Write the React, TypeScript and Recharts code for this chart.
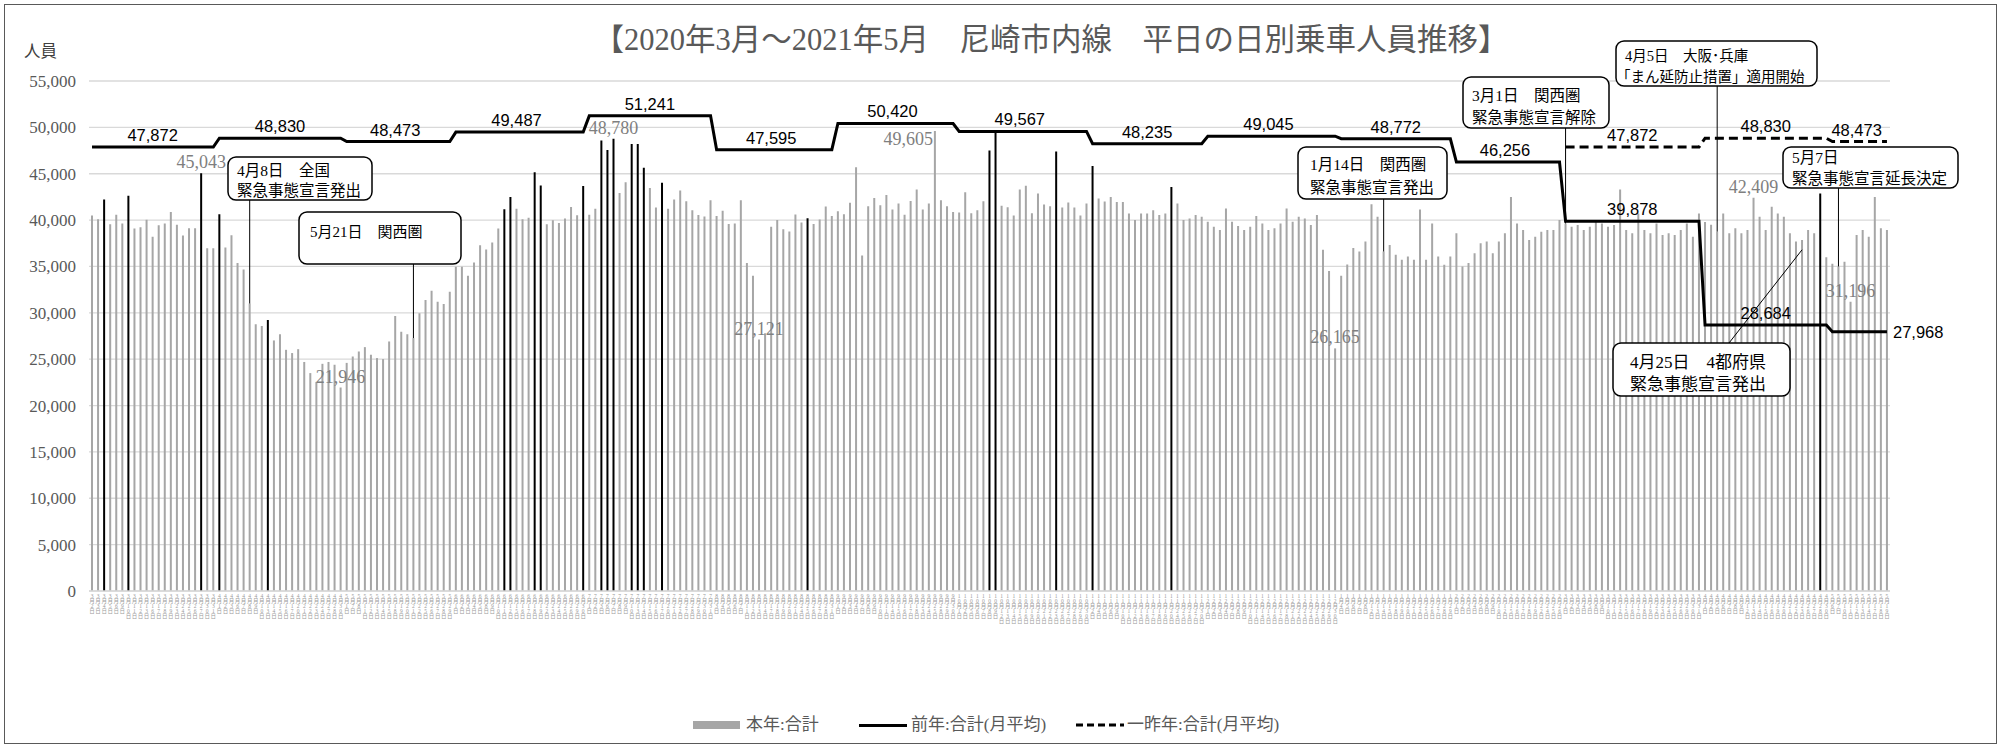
import React from 'react';
import { ComposedChart, Bar, Line, XAxis, YAxis, CartesianGrid, Cell, LabelList, ReferenceDot } from 'recharts';

const SERIF = '"Liberation Serif", "Noto Sans CJK JP", serif';
const SANS = '"Liberation Sans", Arial, sans-serif';

// months shown on the axis
const MONTH_YEAR = [2020, 2020, 2020, 2020, 2020, 2020, 2020, 2020, 2020, 2020, 2021, 2021, 2021, 2021, 2021];
const MONTH_NUM = [3, 4, 5, 6, 7, 8, 9, 10, 11, 12, 1, 2, 3, 4, 5];

// weekdays (holidays excluded) of each month
const BUSINESS_DAYS = [
  [2, 3, 4, 5, 6, 9, 10, 11, 12, 13, 16, 17, 18, 19, 23, 24, 25, 26, 27, 30, 31],
  [1, 2, 3, 6, 7, 8, 9, 10, 13, 14, 15, 16, 17, 20, 21, 22, 23, 24, 27, 28, 30],
  [1, 7, 8, 11, 12, 13, 14, 15, 18, 19, 20, 21, 22, 25, 26, 27, 28, 29],
  [1, 2, 3, 4, 5, 8, 9, 10, 11, 12, 15, 16, 17, 18, 19, 22, 23, 24, 25, 26, 29, 30],
  [1, 2, 3, 6, 7, 8, 9, 10, 13, 14, 15, 16, 17, 20, 21, 22, 27, 28, 29, 30, 31],
  [3, 4, 5, 6, 7, 11, 12, 13, 14, 17, 18, 19, 20, 21, 24, 25, 26, 27, 28, 31],
  [1, 2, 3, 4, 7, 8, 9, 10, 11, 14, 15, 16, 17, 18, 23, 24, 25, 28, 29, 30],
  [1, 2, 5, 6, 7, 8, 9, 12, 13, 14, 15, 16, 19, 20, 21, 22, 23, 26, 27, 28, 29, 30],
  [2, 4, 5, 6, 9, 10, 11, 12, 13, 16, 17, 18, 19, 20, 24, 25, 26, 27, 30],
  [1, 2, 3, 4, 7, 8, 9, 10, 11, 14, 15, 16, 17, 18, 21, 22, 23, 24, 25, 28, 29, 30],
  [4, 5, 6, 7, 8, 12, 13, 14, 15, 18, 19, 20, 21, 22, 25, 26, 27, 28, 29],
  [1, 2, 3, 4, 5, 8, 9, 10, 12, 15, 16, 17, 18, 19, 22, 24, 25, 26],
  [1, 2, 3, 4, 5, 8, 9, 10, 11, 12, 15, 16, 17, 18, 19, 22, 23, 24, 25, 26, 29, 30, 31],
  [1, 2, 5, 6, 7, 8, 9, 12, 13, 14, 15, 16, 19, 20, 21, 22, 23, 26, 27, 28, 30],
  [6, 7, 10, 11, 12, 13, 14, 17, 18, 19],
];

// 本年:合計 (daily riders), one list per month
const RIDERS = [
  [40500, 40080, 42230, 39550, 40580, 39620, 42620, 39080, 39220, 40050, 38190, 39440, 39620, 40870, 39510, 38330, 39110, 39110, 45043, 36970, 36970],
  [40620, 37040, 38360, 35360, 34680, 31000, 28770, 28590, 29230, 27020, 27700, 26010, 25660, 26080, 24700, 23500, 22550, 24500, 24700, 24400, 21946],
  [24600, 25290, 25830, 26300, 25480, 25120, 25010, 26910, 29670, 27950, 27700, 27270, 29950, 31380, 32390, 31200, 30950, 32280],
  [34960, 34960, 34000, 35430, 37290, 36830, 37580, 39080, 41160, 42480, 41230, 40080, 40260, 45170, 43740, 39550, 39980, 39690, 40160, 41410, 40510, 43670],
  [40580, 41230, 48570, 47570, 48780, 42930, 44070, 48210, 48210, 45640, 43460, 41360, 44040, 41220, 42210, 43180, 42040, 41070, 40540, 40390, 42140],
  [40430, 41000, 39570, 39640, 42140, 35360, 34000, 27121, 27800, 39290, 40000, 39000, 38780, 40600, 39750, 40210, 39570, 40070, 41460, 40430],
  [40960, 40640, 41860, 45710, 36180, 41500, 42390, 41610, 42710, 41140, 41790, 40570, 42070, 43290, 41140, 41790, 49605, 42140, 41500, 40860],
  [40820, 43000, 40750, 41070, 42040, 47500, 49450, 41540, 41390, 40500, 43290, 43710, 40750, 42860, 41680, 41500, 47390, 41360, 41890, 41360, 40500, 41790],
  [45820, 42320, 42000, 42500, 41960, 41960, 40710, 40000, 40710, 40710, 41070, 40540, 40710, 43570, 41790, 40000, 40180, 40540, 40360],
  [39820, 39290, 38930, 41250, 39820, 39360, 38930, 39290, 40430, 39640, 38930, 39110, 39640, 41250, 39820, 40360, 40180, 39460, 40540, 36790, 34500, 26165],
  [34000, 35200, 37000, 36610, 37680, 41710, 40360, 36610, 37320, 36250, 35710, 36070, 35710, 41140, 35710, 39640, 36070, 35180, 36070],
  [38570, 35000, 35360, 36430, 37500, 37680, 36430, 37680, 38570, 42500, 39640, 38930, 37860, 38210, 38750, 38930, 38930, 40000],
  [39640, 39290, 39460, 38930, 39290, 39820, 39640, 39290, 39460, 43290, 38930, 38570, 40710, 38930, 38570, 39640, 38390, 38570, 38390, 38930, 39640, 38210, 40710],
  [39800, 39500, 38750, 40710, 38570, 39110, 38570, 38930, 42409, 40360, 38930, 41430, 40710, 40360, 38570, 37680, 37860, 38930, 38570, 42860, 36000],
  [35300, 35000, 35500, 31196, 38390, 38930, 38210, 42500, 39110, 38930],
];

// 前年:合計(月平均)
const PREV_AVG = [47872, 48830, 48473, 49487, 51241, 47595, 50420, 49567, 48235, 49045, 48772, 46256, 39878, 28684, 27968];
// 一昨年:合計(月平均)
const TWO_AGO_AVG = [null, null, null, null, null, null, null, null, null, null, null, null, 47872, 48830, 48473];

// days drawn in black
const BLACK_DAYS = [
  '2020/3/4', '2020/3/10', '2020/3/27', '2020/4/1', '2020/4/13', '2020/6/11', '2020/6/12', '2020/6/18', '2020/6/19',
  '2020/6/30', '2020/7/3', '2020/7/6', '2020/7/7', '2020/7/10', '2020/7/13', '2020/7/14', '2020/7/17', '2020/8/25',
  '2020/10/8', '2020/10/9', '2020/10/23', '2020/11/2', '2020/11/20', '2021/4/28',
];
// days whose value is written on the chart
const LABELED_DAYS = ['2020/3/27', '2020/4/30', '2020/7/7', '2020/8/13', '2020/12/30', '2021/4/13', '2021/5/11'];
const LEFT_LABELED_DAYS = ['2020/9/25'];

const Y_TICKS = [0, 5000, 10000, 15000, 20000, 25000, 30000, 35000, 40000, 45000, 50000, 55000];

// callouts
const NOTE_DAYS = ['2020/4/8', '2020/5/21', '2021/1/14', '2021/3/1', '2021/4/5', '2021/5/7', '2021/4/23'];
const NOTE_TEXT = [
  ['4月8日　全国', '緊急事態宣言発出'],
  ['5月21日　関西圏', ''],
  ['1月14日　関西圏', '緊急事態宣言発出'],
  ['3月1日　関西圏', '緊急事態宣言解除'],
  ['4月5日　大阪･兵庫', '「まん延防止措置」適用開始'],
  ['5月7日', '緊急事態宣言延長決定'],
  ['4月25日　4都府県', '緊急事態宣言発出'],
];
const NOTE_TIP = [null, null, null, null, null, null, 36800];

const NOTE_LAYOUT = [
  { x: 228, y: 157, w: 144, h: 43, fs: 15.5, t1: 9, t2: 9, b1: 19, b2: 39 },
  { x: 299, y: 212, w: 162, h: 52, fs: 15, t1: 11, t2: 11, b1: 25, b2: 46 },
  { x: 1298, y: 147, w: 149, h: 52, fs: 15.5, t1: 12, t2: 12, b1: 23, b2: 46 },
  { x: 1463, y: 77, w: 146, h: 51, fs: 15.5, t1: 9, t2: 9, b1: 24, b2: 46 },
  { x: 1616, y: 41, w: 201, h: 45, fs: 14.5, t1: 9, t2: 0, b1: 20, b2: 41 },
  { x: 1783, y: 147, w: 175, h: 41, fs: 15.5, t1: 9, t2: 9, b1: 16, b2: 37 },
  { x: 1613, y: 343, w: 177, h: 53, fs: 17, t1: 17, t2: 17, b1: 25, b2: 47, lead: { x: 1729, y: 343 } },
];

const fmt = (v: number) => String(v).replace(/\B(?=(\d{3})+(?!\d))/g, ',');

function buildRows() {
  const out: any[] = [];
  BUSINESS_DAYS.forEach((days, m) => {
    const mid = Math.floor((days.length - 1) / 2);
    const lastMonth = m === BUSINESS_DAYS.length - 1;
    days.forEach((d, i) => {
      const key = `${MONTH_YEAR[m]}/${MONTH_NUM[m]}/${d}`;
      const v = RIDERS[m][i];
      const two = TWO_AGO_AVG[m];
      out.push({
        key,
        riders: v,
        prev: PREV_AVG[m],
        twoAgo: two,
        black: BLACK_DAYS.includes(key),
        labelTop: LABELED_DAYS.includes(key) ? fmt(v) : null,
        labelLeft: LEFT_LABELED_DAYS.includes(key) ? fmt(v) : null,
        prevTop: !lastMonth && i === mid ? fmt(PREV_AVG[m]) : null,
        prevRight: lastMonth && i === days.length - 1 ? fmt(PREV_AVG[m]) : null,
        twoTop: two != null && i === mid ? fmt(two) : null,
      });
    });
  });
  return out;
}

const rows = buildRows();

const vbOf = (p: any) => {
  const v = p.viewBox || {};
  return { x: v.x ?? p.x, y: v.y ?? p.y, w: v.width ?? p.width ?? 0 };
};

const BarTopLabel = (p: any) => {
  if (p.value == null) return null;
  const b = vbOf(p);
  return (
    <text x={b.x + b.w / 2} y={b.y - 5} textAnchor="middle" fontSize={18} fill="#7f7f7f" fontFamily={SERIF}>
      {p.value}
    </text>
  );
};

const BarLeftLabel = (p: any) => {
  if (p.value == null) return null;
  const b = vbOf(p);
  return (
    <text x={b.x - 1} y={b.y + 14} textAnchor="end" fontSize={18} fill="#7f7f7f" fontFamily={SERIF}>
      {p.value}
    </text>
  );
};

const LineTopLabel = (p: any) => {
  if (p.value == null) return null;
  const b = vbOf(p);
  return (
    <text x={b.x} y={b.y - 6} textAnchor="middle" fontSize={16.5} fill="#000" fontFamily={SANS}>
      {p.value}
    </text>
  );
};

const LineRightLabel = (p: any) => {
  if (p.value == null) return null;
  const b = vbOf(p);
  return (
    <text x={b.x + 6} y={b.y + 6} textAnchor="start" fontSize={16.5} fill="#000" fontFamily={SANS}>
      {p.value}
    </text>
  );
};

const DateTick = (props: any) => {
  const { x, y, payload } = props;
  const parts = String(payload.value).split('/');
  const chars = [...parts[1], '月', ...parts[2], '日'];
  return (
    <g>
      {chars.map((c, i) => (
        <text key={i} x={x} y={y + 6.5 + i * 5.1} textAnchor="middle" fontSize={5.5} fill="#9a9a9a" fontFamily={SERIF}>
          {c}
        </text>
      ))}
    </g>
  );
};

const ValueTick = (props: any) => {
  const { x, y, payload } = props;
  return (
    <text x={x} y={y + 6} textAnchor="end" fontSize={17} fill="#595959" fontFamily={SERIF}>
      {fmt(payload.value)}
    </text>
  );
};

const noteShape = (i: number) => (props: any) => {
  const { cx, cy } = props;
  const L = NOTE_LAYOUT[i];
  const [l1, l2] = NOTE_TEXT[i];
  const from = L.lead ? L.lead : { x: cx, y: L.y + L.h };
  return (
    <g>
      <line x1={from.x} y1={from.y} x2={cx} y2={cy} stroke="#000" strokeWidth={1} />
      <rect x={L.x} y={L.y} width={L.w} height={L.h} rx={8} ry={8} fill="#fff" stroke="#000" strokeWidth={1.5} />
      <text x={L.x + L.t1} y={L.y + L.b1} fontSize={L.fs} fill="#000" fontFamily={SERIF}>{l1}</text>
      {l2 ? <text x={L.x + L.t2} y={L.y + L.b2} fontSize={L.fs} fill="#000" fontFamily={SERIF}>{l2}</text> : null}
    </g>
  );
};

const noteTip = (i: number) => {
  const t = NOTE_TIP[i];
  if (t != null) return t;
  const r = rows.find((row) => row.key === NOTE_DAYS[i]);
  return r ? r.riders : 0;
};

const legendText = { position: 'absolute' as const, top: 714, fontSize: 17, lineHeight: '22px', color: '#595959', fontFamily: SERIF, whiteSpace: 'nowrap' as const };

export default function App() {
  return (
    <div style={{ position: 'absolute', left: 0, top: 0, width: 2001, height: 747, background: '#fff', overflow: 'hidden' }}>
      <ComposedChart width={2001} height={747} data={rows} margin={{ top: 81, right: 111, bottom: 126, left: 0 }} barCategoryGap={0}>
        <CartesianGrid vertical={false} stroke="#d9d9d9" strokeWidth={1.3} />
        <XAxis
          dataKey="key"
          interval={0}
          tick={DateTick}
          tickLine={false}
          tickSize={0}
          tickMargin={0}
          height={30}
          axisLine={{ stroke: '#d9d9d9', strokeWidth: 1.3 }}
        />
        <YAxis
          width={89}
          domain={[0, 55000]}
          ticks={Y_TICKS}
          axisLine={false}
          tickLine={false}
          tickSize={0}
          tickMargin={13}
          tick={ValueTick}
        />
        <Bar dataKey="riders" barSize={2} fill="#a6a6a6" isAnimationActive={false}>
          {rows.map((r, i) => (
            <Cell key={i} fill={r.black ? '#000' : '#a6a6a6'} />
          ))}
          <LabelList dataKey="labelTop" content={BarTopLabel} />
          <LabelList dataKey="labelLeft" content={BarLeftLabel} />
        </Bar>
        <Line dataKey="prev" type="linear" stroke="#000" strokeWidth={3} dot={false} activeDot={false} isAnimationActive={false}>
          <LabelList dataKey="prevTop" content={LineTopLabel} />
          <LabelList dataKey="prevRight" content={LineRightLabel} />
        </Line>
        <Line
          dataKey="twoAgo"
          type="linear"
          stroke="#000"
          strokeWidth={3}
          strokeDasharray="9 5"
          dot={false}
          activeDot={false}
          connectNulls={false}
          isAnimationActive={false}
        >
          <LabelList dataKey="twoTop" content={LineTopLabel} />
        </Line>
        {NOTE_DAYS.map((d, i) => (
          <ReferenceDot key={d} x={d} y={noteTip(i)} r={0} ifOverflow="visible" shape={noteShape(i)} />
        ))}
      </ComposedChart>

      <div
        style={{
          position: 'absolute', left: 451, top: 20, width: 1200, textAlign: 'center',
          fontSize: 30.5, lineHeight: '40px', color: '#595959', fontFamily: SERIF, whiteSpace: 'nowrap',
        }}
      >
        【2020年3月～2021年5月　尼崎市内線　平日の日別乗車人員推移】
      </div>
      <div style={{ position: 'absolute', left: 24, top: 41, fontSize: 16.5, lineHeight: '22px', color: '#404040', fontFamily: SERIF }}>
        人員
      </div>

      {/* legend */}
      <div style={{ position: 'absolute', left: 693, top: 721, width: 47, height: 8, background: '#a6a6a6' }} />
      <div style={{ ...legendText, left: 746 }}>本年:合計</div>
      <div style={{ position: 'absolute', left: 859, top: 723.5, width: 48, height: 3, background: '#000' }} />
      <div style={{ ...legendText, left: 911 }}>前年:合計(月平均)</div>
      <svg style={{ position: 'absolute', left: 1076, top: 720 }} width={48} height={10}>
        <line x1={0} y1={5} x2={48} y2={5} stroke="#000" strokeWidth={3} strokeDasharray="7 4" />
      </svg>
      <div style={{ ...legendText, left: 1127 }}>一昨年:合計(月平均)</div>

      <div style={{ position: 'absolute', left: 4, top: 4, width: 1993, height: 740, boxSizing: 'border-box', border: '1.3px solid #595959' }} />
    </div>
  );
}
